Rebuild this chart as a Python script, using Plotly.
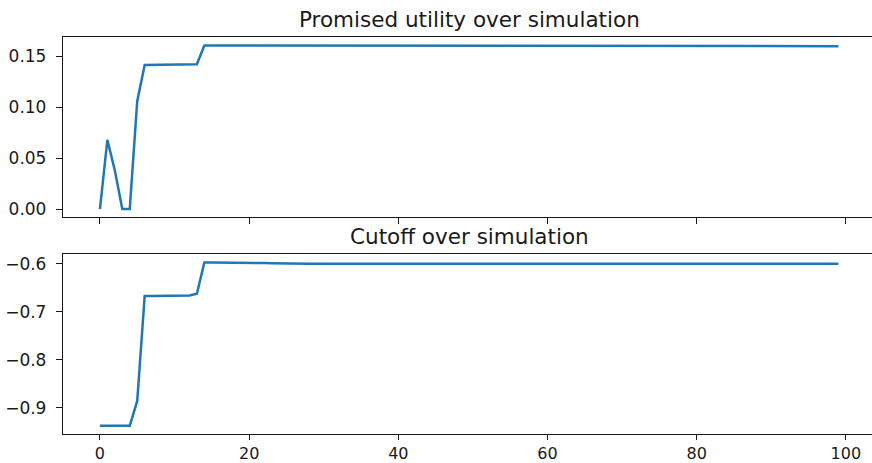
import plotly.graph_objects as go

steps = list(range(100))

promised_utility = [
    0.000, 0.068, 0.038, 0.000, 0.000, 0.106, 0.1415, 0.1415, 0.1416, 0.1416,
    0.1417, 0.1417, 0.1418, 0.1422, 0.1607, 0.1607, 0.1606, 0.1606, 0.1605, 0.1605,
    0.1604, 0.1603, 0.1602, 0.1601, 0.1601, 0.1600, 0.1600, 0.1600, 0.1600, 0.1600,
    0.1600, 0.1600, 0.1600, 0.1600, 0.1600, 0.1600, 0.1600, 0.1600, 0.1600, 0.1600,
    0.1600, 0.1600, 0.1600, 0.1600, 0.1600, 0.1600, 0.1600, 0.1600, 0.1600, 0.1600,
    0.1600, 0.1600, 0.1600, 0.1600, 0.1600, 0.1600, 0.1600, 0.1600, 0.1600, 0.1600,
    0.1600, 0.1600, 0.1600, 0.1600, 0.1600, 0.1600, 0.1600, 0.1600, 0.1600, 0.1600,
    0.1600, 0.1600, 0.1600, 0.1600, 0.1600, 0.1600, 0.1600, 0.1600, 0.1600, 0.1600,
    0.1600, 0.1600, 0.1600, 0.1600, 0.1600, 0.1600, 0.1600, 0.1600, 0.1600, 0.1600,
    0.1600, 0.1600, 0.1600, 0.1600, 0.1600, 0.1600, 0.1600, 0.1600, 0.1600, 0.1600,
]

cutoff = [
    -0.938, -0.938, -0.938, -0.938, -0.938, -0.886, -0.667, -0.667, -0.667, -0.667,
    -0.667, -0.667, -0.666, -0.6625, -0.597, -0.597, -0.597, -0.597, -0.597, -0.597,
    -0.597, -0.598, -0.5985, -0.599, -0.5995, -0.600, -0.600, -0.600, -0.600, -0.600,
    -0.600, -0.600, -0.600, -0.600, -0.600, -0.600, -0.600, -0.600, -0.600, -0.600,
    -0.600, -0.600, -0.600, -0.600, -0.600, -0.600, -0.600, -0.600, -0.600, -0.600,
    -0.600, -0.600, -0.600, -0.600, -0.600, -0.600, -0.600, -0.600, -0.600, -0.600,
    -0.600, -0.600, -0.600, -0.600, -0.600, -0.600, -0.600, -0.600, -0.600, -0.600,
    -0.600, -0.600, -0.600, -0.600, -0.600, -0.600, -0.600, -0.600, -0.600, -0.600,
    -0.600, -0.600, -0.600, -0.600, -0.600, -0.600, -0.600, -0.600, -0.600, -0.600,
    -0.600, -0.600, -0.600, -0.600, -0.600, -0.600, -0.600, -0.600, -0.600, -0.600,
]

x_ticks = [0, 20, 40, 60, 80, 100]
top_y_ticks = [0.00, 0.05, 0.10, 0.15]
bottom_y_ticks = [-0.9, -0.8, -0.7, -0.6]
titles = ["Promised utility over simulation", "Cutoff over simulation"]

LINE = "#1f77b4"
FONT = "DejaVu Sans"
INK = "#1a1a1a"

fig = go.Figure()
fig.add_trace(go.Scatter(x=steps, y=promised_utility, mode="lines",
                         line=dict(color=LINE, width=2.5), xaxis="x", yaxis="y",
                         showlegend=False))
fig.add_trace(go.Scatter(x=steps, y=cutoff, mode="lines",
                         line=dict(color=LINE, width=2.5), xaxis="x2", yaxis="y2",
                         showlegend=False))

axis_common = dict(showgrid=False, zeroline=False, showline=True, linecolor=INK,
                   linewidth=1.3, ticks="outside", ticklen=6, tickwidth=1.3,
                   tickcolor=INK, tickfont=dict(family=FONT, size=17, color=INK),
                   automargin=False)

xr = [-4.95, 103.5]
fig.update_layout(
    width=872, height=463,
    margin=dict(l=63, r=0, t=37, b=29),
    paper_bgcolor="white", plot_bgcolor="white",
    font=dict(family=FONT, color=INK),
    xaxis=dict(**axis_common, domain=[0, 1], range=xr, anchor="y", mirror=True,
               tickvals=x_ticks, showticklabels=False),
    yaxis=dict(**axis_common, domain=[0.546, 1], range=[-0.008, 0.169], anchor="x",
               tickvals=top_y_ticks, tickformat=".2f", ticklabelstandoff=6),
    xaxis2=dict(**axis_common, domain=[0, 1], range=xr, anchor="y2", mirror=True,
                tickvals=x_ticks, tickformat="d", ticklabelstandoff=0),
    yaxis2=dict(**axis_common, domain=[0, 0.454], range=[-0.955, -0.579], anchor="x2",
                tickvals=bottom_y_ticks, tickformat=".1f", ticklabelstandoff=6),
)
fig.update_layout(xaxis2=dict(ticklen=5, tickfont=dict(family=FONT, size=16, color=INK)))

fig.add_annotation(text=titles[0], xref="paper", yref="paper", x=0.503, y=1.0,
                   yshift=3, xanchor="center", yanchor="bottom", showarrow=False,
                   font=dict(family=FONT, size=21.5, color=INK))
fig.add_annotation(text=titles[1], xref="paper", yref="paper", x=0.503, y=0.454,
                   yshift=3, xanchor="center", yanchor="bottom", showarrow=False,
                   font=dict(family=FONT, size=21.5, color=INK))

fig.write_html("out.html")
